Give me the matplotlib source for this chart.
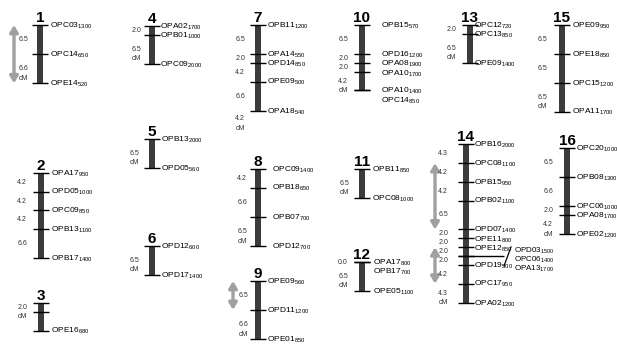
import matplotlib.pyplot as plt
from matplotlib.patches import Rectangle

plt.rcParams['font.family'] = ['Liberation Sans', 'DejaVu Sans']
plt.rcParams['mathtext.fontset'] = 'custom'
plt.rcParams['mathtext.rm'] = 'Liberation Sans'
plt.rcParams['mathtext.it'] = 'Liberation Sans'

# linkage groups: marker names, fragment sizes (bp), intervals (cM), interval labels
groups = ['1', '2', '3', '4', '5', '6', '7', '8', '9', '10', '11', '12', '13', '14', '15', '16']
markers = [
    ['OPC03', 'OPC14', 'OPE14'],
    ['OPA17', 'OPD05', 'OPC09', 'OPB13', 'OPB17'],
    ['', '', 'OPE16'],
    ['OPA02', 'OPB01', 'OPC09'],
    ['OPB13', 'OPD05'],
    ['OPD12', 'OPD17'],
    ['OPB11', 'OPA14', 'OPD14', 'OPE09', 'OPA18'],
    ['OPC09', 'OPB18', 'OPB07', 'OPD12'],
    ['OPE09', 'OPD11', 'OPE01'],
    ['OPB15', 'OPD16', 'OPA08', 'OPA10', 'OPA10', 'OPC14'],
    ['OPB11', 'OPC08'],
    ['OPA17', 'OPB17', 'OPE05'],
    ['OPC12', 'OPC13', 'OPE09'],
    ['OPB16', 'OPC08', 'OPB15', 'OPB02', 'OPD07', 'OPE11', 'OPE12', '', 'OPD19', 'OPC17', 'OPA02'],
    ['OPE09', 'OPE18', 'OPC15', 'OPA11'],
    ['OPC20', 'OPB08', 'OPC06', 'OPA08', 'OPE02'],
]
sizes = [
    [1300, 650, 520],
    [950, 1000, 850, 1100, 1400],
    [0, 0, 680],
    [1700, 1000, 2000],
    [2000, 560],
    [600, 1400],
    [1200, 550, 850, 500, 540],
    [1400, 650, 700, 700],
    [560, 1200, 850],
    [570, 1200, 1900, 1700, 1400, 850],
    [850, 1000],
    [800, 700, 1100],
    [720, 850, 1400],
    [2000, 1100, 950, 1100, 1400, 800, 850, 0, 500, 950, 1200],
    [950, 850, 1200, 1700],
    [1000, 1300, 1000, 1700, 1200],
]
intervals = [
    [6.5, 6.6],
    [4.2, 4.2, 4.2, 6.6],
    [2.0, 4.2],
    [2.0, 6.5],
    [6.5],
    [6.5],
    [6.5, 2.0, 4.2, 6.6],
    [4.2, 6.6, 6.5],
    [6.5, 6.6],
    [6.5, 2.0, 2.0, 4.2, 0.0],
    [6.5],
    [0.0, 6.5],
    [2.0, 6.5],
    [4.3, 4.2, 4.2, 6.5, 2.0, 2.0, 2.0, 2.0, 4.2, 4.3],
    [6.5, 6.5, 6.5],
    [6.5, 6.6, 2.0, 4.2],
]
interval_text = [
    ['6.5', '6.6\ncM'],
    ['4.2', '4.2', '4.2', '6.6'],
    ['2.0\ncM', ''],
    ['2.0', '6.5\ncM'],
    ['6.5\ncM'],
    ['6.5\ncM'],
    ['6.5', '2.0', '4.2', '6.6', '4.2\ncM'],
    ['4.2', '6.6', '6.5\ncM'],
    ['6.5', '6.6\ncM'],
    ['6.5', '2.0', '2.0', '4.2\ncM', ''],
    ['6.5\ncM'],
    ['0.0', '6.5\ncM'],
    ['2.0', '6.5\ncM'],
    ['4.3', '4.2', '4.2', '6.5', '2.0', '2.0', '2.0', '2.0', '4.2', '4.3\ncM'],
    ['6.5', '6.5', '6.5\ncM'],
    ['6.5', '6.6', '2.0', '4.2\ncM'],
]
# markers sharing the long tick on group 14
side_markers = ['OPD03', 'OPC06', 'OPA13']
side_sizes = [1500, 1400, 1700]
# grey arrows: (group index, first marker, last marker, x)
arrows = [(0, 0, 2, 14), (8, 0, 1, 233), (13, 1, 4, 435), (13, 6, 9, 435)]

# layout in pixels: bar centre x, top y, label offset, distance offset
xpos = [40, 41, 41, 152, 152, 152, 258, 258, 258, 362, 362, 362, 470, 466, 562, 567]
ytop = [25, 173, 303, 26, 139, 246, 25, 169, 281, 25, 169, 262, 25, 144, 25, 148]
lab_off = [10, 10, 10, 8, 9, 9, 9, 14, 9, 19, 10, 11, 4, 8, 10, 9]
dist_off = [12, 14, 14, 11, 13, 13, 13, 11, 10, 14, 13, 14, 14, 18, 15, 14]

SCALE = 4.45   # px per cM
GAP = 9.5

fig = plt.figure(figsize=(6.17, 3.49), dpi=100)
ax = fig.add_axes([0, 0, 1, 1])
ax.set_xlim(0, 617)
ax.set_ylim(349, 0)
ax.axis('off')


def lab(name, size):
    return name + r'$_{\mathrm{%d}}$' % size


for g in range(len(groups)):
    x, top = xpos[g], ytop[g]
    ys = [top]
    for d in intervals[g]:
        ys.append(ys[-1] + d * SCALE)
    bottom = ys[-1]
    ax.add_patch(Rectangle((x - 3, top), 6, bottom - top, facecolor='#3c3c3c',
                           edgecolor='none', zorder=2))
    ax.hlines(ys, x - 8, x + 8, color='black', lw=1, zorder=3)
    ax.text(x, top - 3, groups[g], fontsize=11, fontweight='bold',
            ha='center', va='baseline')

    # marker labels, pushed down so they don't overlap
    ly = None
    for i, name in enumerate(markers[g]):
        if not name:
            continue
        y = ys[i] if ly is None else max(ys[i], ly + GAP)
        ly = y
        ax.text(x + lab_off[g], y + 2.5, lab(name, sizes[g][i]), fontsize=6,
                ha='left', va='baseline')

    # distance labels
    for k, t in enumerate(interval_text[g]):
        if not t:
            continue
        if k < len(intervals[g]):
            y = (ys[k] + ys[k + 1]) / 2
        else:
            y = bottom + 8
        for j, line in enumerate(t.split('\n')):
            ax.text(x - dist_off[g], y + j * 9.5, line, fontsize=5, color='#333333',
                    ha='right', va='center', zorder=4)

    if g == 13:
        yl = ys[7]
        ax.hlines(yl, x - 8, 504, color='black', lw=1, zorder=3)
        ax.plot([504, 511], [266, 247], color='black', lw=0.9)
        for j, name in enumerate(side_markers):
            ax.text(514, 250 + j * 9.3 + 2.5, lab(name, side_sizes[j]), fontsize=5.8,
                    ha='left', va='baseline')

for g, i0, i1, ax_x in arrows:
    ys = [ytop[g]]
    for d in intervals[g]:
        ys.append(ys[-1] + d * SCALE)
    ax.annotate('', xy=(ax_x, ys[i1]), xytext=(ax_x, ys[i0]),
                arrowprops=dict(arrowstyle='<|-|>,head_length=0.5,head_width=0.3',
                                color='#a0a0a0', lw=2.4, mutation_scale=8,
                                shrinkA=0, shrinkB=0), zorder=1)

fig.savefig('out.png', dpi=100)
